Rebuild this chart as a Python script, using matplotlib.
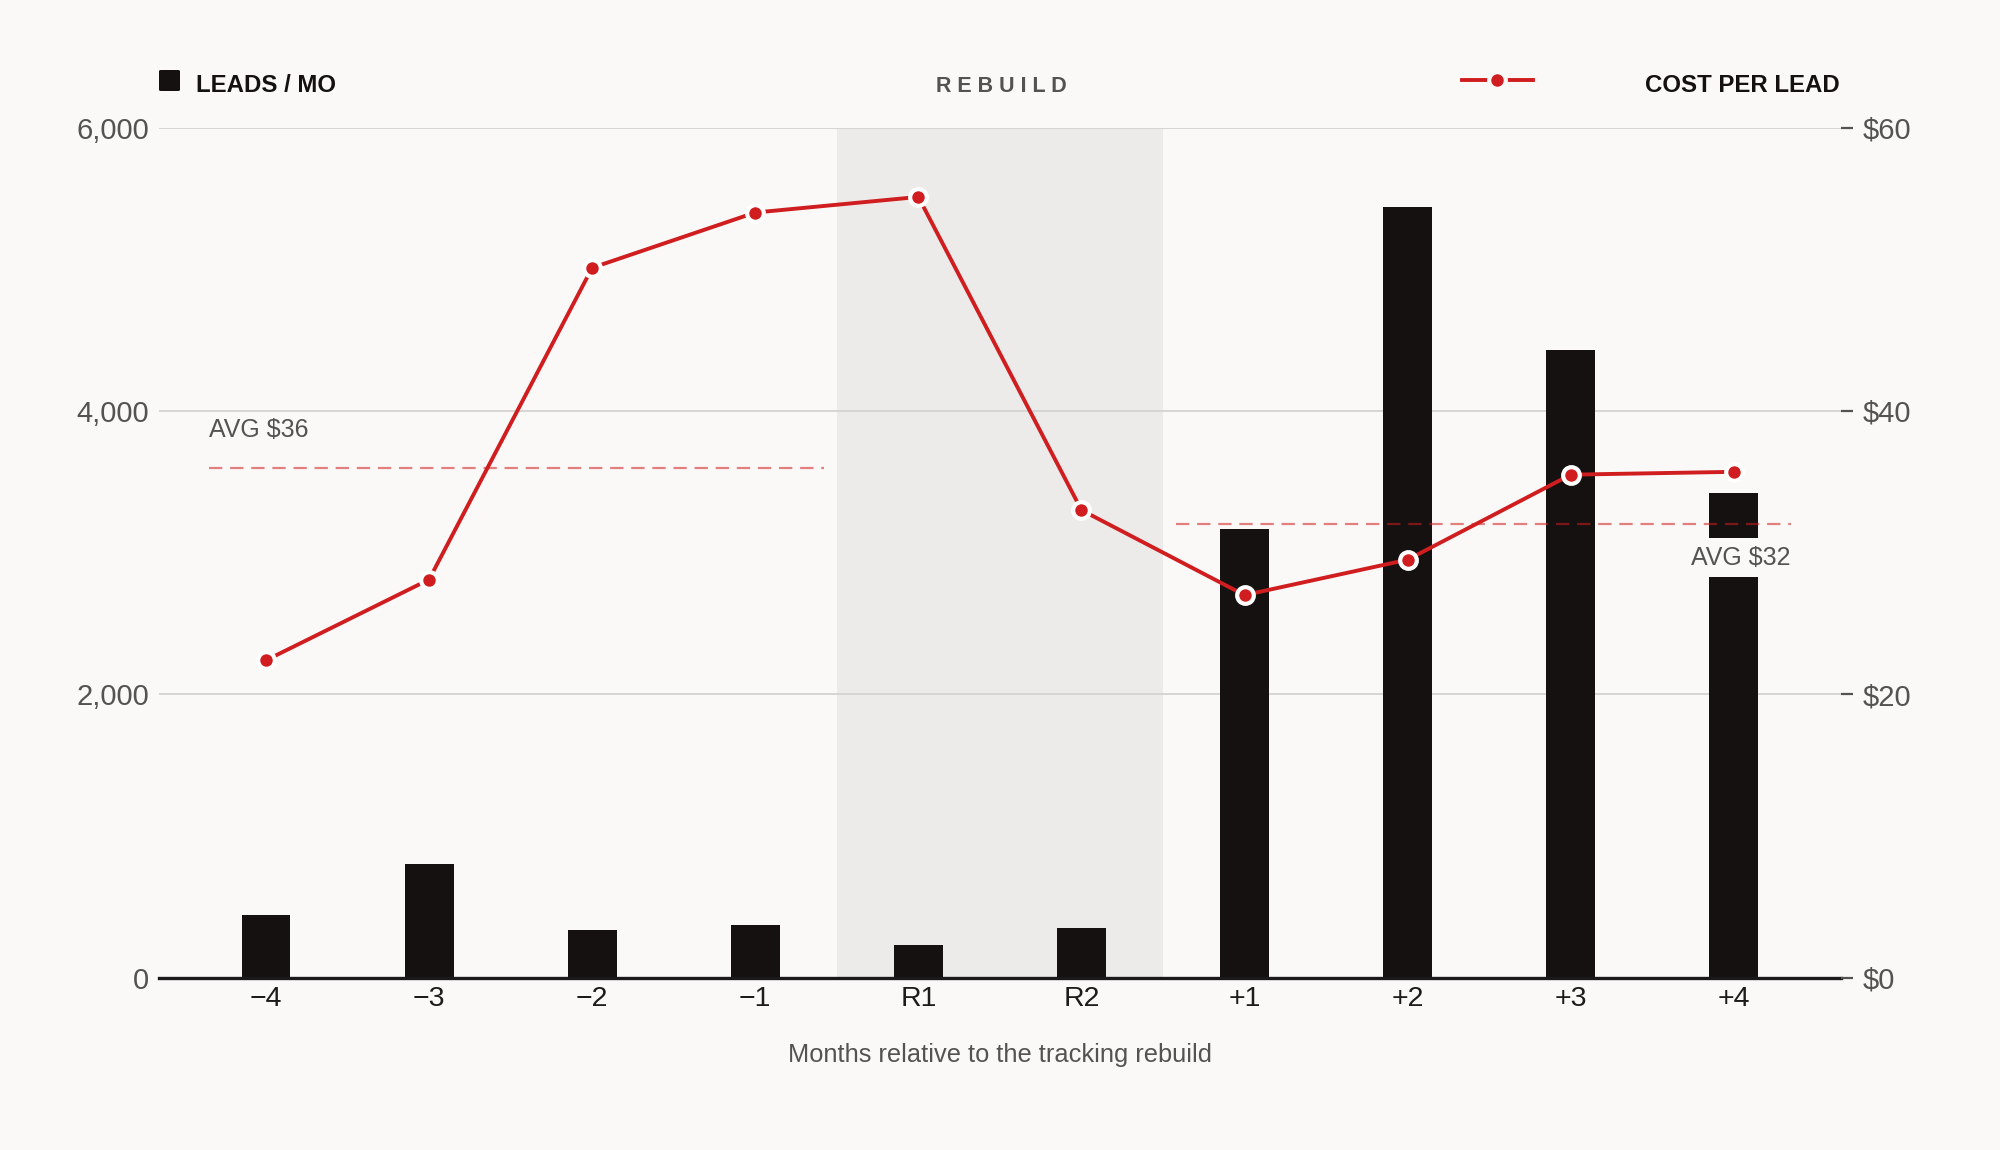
import matplotlib
matplotlib.use("Agg")
import matplotlib.pyplot as plt
from matplotlib.lines import Line2D
from matplotlib.patches import FancyBboxPatch
from matplotlib.ticker import FuncFormatter, FixedLocator

plt.rcParams['font.family'] = ['Liberation Sans', 'DejaVu Sans']

# ---- data ----
months = ["\u22124", "\u22123", "\u22122", "\u22121", "R1", "R2", "+1", "+2", "+3", "+4"]
leads = [440, 800, 340, 370, 230, 350, 3170, 5440, 4430, 3420]
cost_per_lead = [22.4, 28.1, 50.1, 54.0, 55.1, 33.0, 27.0, 29.5, 35.5, 35.7]
avg_pre = 36
avg_post = 32
rebuild_start, rebuild_end = 4, 5          # indices of R1, R2
left_ticks = [0, 2000, 4000, 6000]
right_ticks = [0, 20, 40, 60]

BG = "#faf9f7"
BAR = "#141110"
RED = "#d01d1f"
GRAY = "#555352"
SHADE = "#ecebe9"

fig = plt.figure(figsize=(20, 11.5), dpi=100, facecolor=BG)
ax = fig.add_axes([159/2000, 1 - 977.7/1150, (1841-159)/2000, (977.7-127.5)/1150])
ax.set_facecolor(BG)
ax2 = ax.twinx()

x = list(range(len(months)))
last = len(months) - 1

# rebuild shading
ax.axvspan(rebuild_start - 0.5, rebuild_end + 0.5, color=SHADE, zorder=0, lw=0)

# bars
ax.bar(x, leads, width=0.3, color=BAR, zorder=2)
ax.set_xlim(-0.656, last + 0.657)
ax.set_ylim(0, 6000)

# gridlines
for t in left_ticks[1:]:
    ax.axhline(t, color="#d4d3d1", lw=1.3, zorder=0.5)

# axes styling
for s in ["top", "right", "left"]:
    ax.spines[s].set_visible(False)
for s in ["top", "right", "left", "bottom"]:
    ax2.spines[s].set_visible(False)
ax.spines["bottom"].set_color("#1a1a1a")
ax.spines["bottom"].set_linewidth(2.4)
ax.spines["bottom"].set_zorder(5)

ax.set_xticks(x)
ax.set_xticklabels(months)
ax.tick_params(axis="x", length=0, pad=6, labelsize=20.5, labelcolor="#1e1c1b")
ax.yaxis.set_major_locator(FixedLocator(left_ticks))
ax.yaxis.set_major_formatter(FuncFormatter(lambda v, p: f"{int(v):,}"))
ax.tick_params(axis="y", length=0, pad=7, labelsize=21, labelcolor=GRAY)

# cost per lead line
ax2.set_ylim(0, 60)
ax2.yaxis.set_major_locator(FixedLocator(right_ticks))
ax2.yaxis.set_major_formatter(FuncFormatter(lambda v, p: f"${int(v)}"))
ax2.tick_params(axis="y", length=8.6, width=1.6, color=GRAY, pad=7, labelsize=21, labelcolor=GRAY)

# average lines
ax2.plot([-0.35, rebuild_start - 0.58], [avg_pre, avg_pre], ls=(0, (6, 3.5)), lw=1.6,
         color=RED, alpha=0.55, zorder=3)
ax2.plot([rebuild_end + 0.58, last + 0.35], [avg_post, avg_post], ls=(0, (6, 3.5)), lw=1.6,
         color=RED, alpha=0.55, zorder=3)

ax2.plot(x, cost_per_lead, color=RED, lw=2.8, marker="o", markersize=12,
         markerfacecolor=RED, markeredgecolor="white", markeredgewidth=3.0, zorder=4)

ax2.annotate(f"AVG ${avg_pre}", xy=(-0.35, avg_pre), xytext=(0, 27), textcoords="offset points",
             ha="left", va="center", fontsize=18, color=GRAY, zorder=6)
ax2.annotate(f"AVG ${avg_post}", xy=(last + 0.35, avg_post), xytext=(0, -24),
             textcoords="offset points", ha="right", va="center", fontsize=18, color=GRAY, zorder=6,
             bbox=dict(boxstyle="square,pad=0.3", facecolor=BG, edgecolor="none"))

# x label
ax.set_xlabel("Months relative to the tracking rebuild", fontsize=18.3, color=GRAY)
ax.xaxis.set_label_coords(0.5, -0.0905)
ax.xaxis.label.set_va("center")

# header legend
fig.add_artist(FancyBboxPatch((159/2000, 1 - 91/1150), 21/2000, 21/1150, boxstyle="round,pad=0,rounding_size=0.001",
                              transform=fig.transFigure, facecolor=BAR, edgecolor="none"))
fig.text(196/2000, 1 - 86/1150, "LEADS / MO", fontsize=17.3, fontweight="bold", color="#141110",
         ha="left", va="center")
fig.text(1001/2000, 1 - 86/1150, " ".join("REBUILD"), fontsize=15.5, fontweight="bold", color=GRAY,
         ha="center", va="center")
fig.add_artist(Line2D([1462/2000, 1533/2000], [1 - 80/1150, 1 - 80/1150], transform=fig.transFigure,
                      color=RED, lw=2.8))
fig.add_artist(Line2D([1497/2000], [1 - 80/1150], transform=fig.transFigure, marker="o", markersize=12,
                      markerfacecolor=RED, markeredgecolor=BG, markeredgewidth=3.0, lw=0))
fig.text(1840/2000, 1 - 86/1150, "COST PER LEAD", fontsize=17.3, fontweight="bold", color="#141110",
         ha="right", va="center")

fig.savefig("out.png", dpi=100, facecolor=BG)
